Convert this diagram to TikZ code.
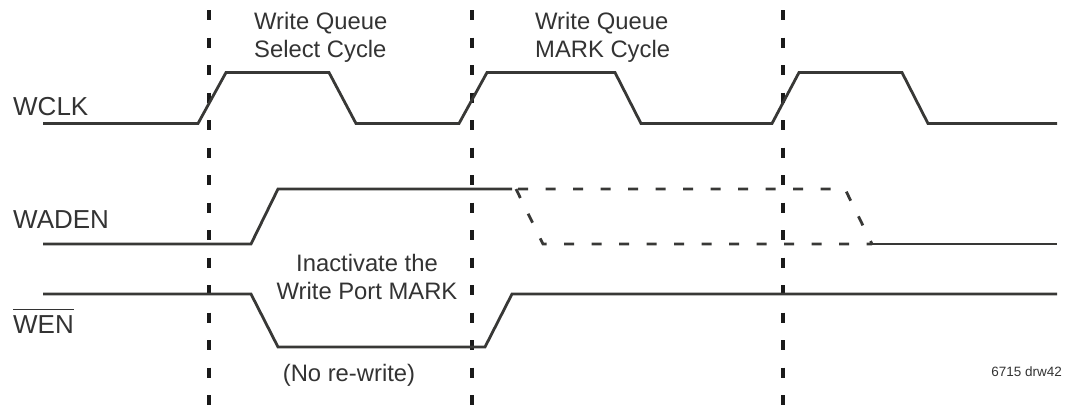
\documentclass[tikz,border=0pt]{standalone}
\usepackage{fontspec}
\setmainfont{Liberation Sans}
\definecolor{sig}{HTML}{383836}
\definecolor{vdash}{HTML}{1A1A1A}
\definecolor{txt}{HTML}{333333}
\begin{document}
\begin{tikzpicture}[x=1pt,y=-1pt,
  signal/.style={draw=sig, line width=2.8pt, line join=miter},
  future/.style={signal, dash pattern=on 10pt off 17.5pt},
  cyclemark/.style={draw=vdash, line width=3.2pt, dash pattern=on 10pt off 17.5pt},
  siglabel/.style={inner sep=0pt, anchor=base west, text=txt, font=\fontsize{26}{30}\selectfont},
  note/.style={inner sep=0pt, text=txt, font=\fontsize{23.8}{28}\selectfont},
  tag/.style={inner sep=0pt, anchor=base east, text=txt, font=\fontsize{13.5}{16}\selectfont}
]
\useasboundingbox (0,0) rectangle (1072,405);

% cycle boundaries
\coordinate (c1t) at (209,10);  \coordinate (c1b) at (209,405);
\coordinate (c2t) at (472,10);  \coordinate (c2b) at (472,405);
\coordinate (c3t) at (783,10);  \coordinate (c3b) at (783,405);
\draw[cyclemark] (c1t) -- (c1b);
\draw[cyclemark] (c2t) -- (c2b);
\draw[cyclemark] (c3t) -- (c3b);

% signal labels
\node[siglabel] (lwclk) at (13,115) {WCLK};
\node[siglabel] (lwaden) at (13,228.5) {WADEN};
\node[siglabel] (lwen) at (13,333.5) {WEN};
\draw[draw=txt, line width=1.6pt] (13,309.5) -- (74,309.5);

% WCLK
\draw[signal] (43,123.5) -- (198,123.5) -- (226,72.5) -- (329,72.5) -- (356,123.5)
  -- (459,123.5) -- (487,72.5) -- (615,72.5) -- (641,123.5) -- (772,123.5)
  -- (799,72.5) -- (902,72.5) -- (928,123.5) -- (1057,123.5);

% WADEN
\draw[signal] (43,244) -- (251,244) -- (278,189) -- (512,189);
\draw[future] (518,189) -- (845,189) -- (872,244);
\draw[future] (516,189) -- (543,244) -- (872,244);
\draw[signal] (872,244) -- (1057,244);

% WEN
\draw[signal] (43,294) -- (251,294) -- (278,347) -- (485,347) -- (512,294) -- (1057,294);

% annotations
\node[note, anchor=base west] (wq1a) at (254,29) {Write Queue};
\node[note, anchor=base west] (wq1b) at (254,57) {Select Cycle};
\node[note, anchor=base west] (wq2a) at (535,29) {Write Queue};
\node[note, anchor=base west] (wq2b) at (535,57) {MARK Cycle};
\node[note, anchor=base] (ina) at (367,271) {Inactivate the};
\node[note, anchor=base] (inb) at (367,299.5) {Write Port MARK};
\node[note, anchor=base] (norw) at (349,381) {(No re-write)};
\node[tag] (drw) at (1062,376) {6715 drw42};
\end{tikzpicture}
\end{document}
